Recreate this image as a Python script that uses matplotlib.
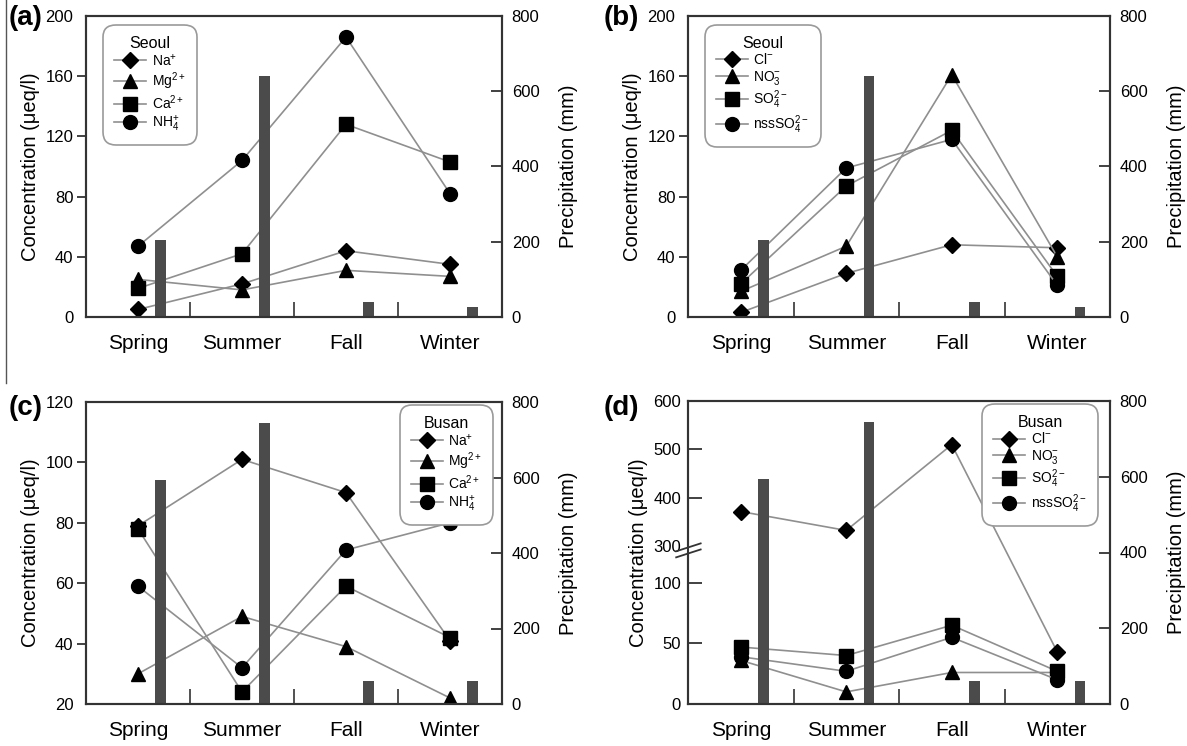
import numpy as np
import matplotlib
matplotlib.use("Agg")
import matplotlib.pyplot as plt
from matplotlib.lines import Line2D
from matplotlib.patches import Rectangle

plt.rcParams['font.family'] = ['Liberation Sans', 'DejaVu Sans']
plt.rcParams['mathtext.fontset'] = 'custom'
plt.rcParams['mathtext.rm'] = 'Liberation Sans'
plt.rcParams['mathtext.it'] = 'Liberation Sans:italic'
plt.rcParams['mathtext.default'] = 'regular'

# ---------------- data ----------------
seasons = ["Spring", "Summer", "Fall", "Winter"]

precip_seoul = [205, 640, 40, 27]
precip_busan = [593, 745, 60, 60]

cation_labels = [r"Na$^{+}$", r"Mg$^{2+}$", r"Ca$^{2+}$", r"NH$_4^{+}$"]
anion_labels = [r"Cl$^{-}$", r"NO$_3^{-}$", r"SO$_4^{2-}$", r"nssSO$_4^{2-}$"]

seoul_na = [5, 22, 44, 35]
seoul_mg = [25, 18, 31, 27]
seoul_ca = [19, 42, 128, 103]
seoul_nh4 = [47, 104, 186, 82]

seoul_cl = [3, 29, 48, 46]
seoul_no3 = [17, 47, 161, 40]
seoul_so4 = [22, 87, 124, 27]
seoul_nss = [31, 99, 118, 21]

busan_na = [79, 101, 90, 41]
busan_mg = [30, 49, 39, 22]
busan_ca = [78, 24, 59, 42]
busan_nh4 = [59, 32, 71, 80]

busan_cl = [372, 333, 510, 43]
busan_no3 = [36, 10, 26, 26]
busan_so4 = [47, 40, 65, 27]
busan_nss = [39, 27, 55, 20]

markers = ["D", "^", "s", "o"]
msizes = [8.5, 9.5, 9.5, 10]

# ---------------- style ----------------
LINE_C = "#8f8f8f"
BAR_C = "#4b4b4b"
SPINE_C = "#333333"

W, H = 1187, 746
fig = plt.figure(figsize=(W / 100, H / 100), dpi=100)

def rect(l, t, r, b):
    return [l / W, (H - b) / H, (r - l) / W, (b - t) / H]

# broken scale for panel (d)
EPS = 1e-7
def fwd(v):
    v = np.asarray(v, dtype=float)
    return np.where(v <= 130, v * 0.004,
                    np.where(v >= 300, 0.52 + 170 * EPS + (v - 300) * 0.0016,
                             0.52 + (v - 130) * EPS))

def inv(u):
    u = np.asarray(u, dtype=float)
    top = 0.52 + 170 * EPS
    return np.where(u <= 0.52, u / 0.004,
                    np.where(u >= top, 300 + (u - top) / 0.0016,
                             130 + (u - 0.52) / EPS))


def panel(box, series, labels, precip, title, ylim, yticks, legend_loc,
          legend_anchor, left_dir="out", broken=False):
    ax = fig.add_axes(rect(*box))
    ax2 = ax.twinx()
    x = np.arange(len(seasons)) + 0.5
    ax.set_xlim(0, 4)
    ax2.set_xlim(0, 4)
    if broken:
        ax.set_yscale("function", functions=(fwd, inv))
    handles = []
    for vals, m, ms, lab in zip(series, markers, msizes, labels):
        h, = ax.plot(x, vals, color=LINE_C, lw=1.2, marker=m, ms=ms,
                     mfc="black", mec="black", label=lab, zorder=3)
        handles.append(h)
    ax2.bar(x + 0.215, precip, width=0.1, color=BAR_C, zorder=2)
    ax.set_ylim(*ylim)
    ax.set_yticks(yticks)
    ax.set_yticklabels([str(t) for t in yticks])
    ax2.set_ylim(0, 800)
    ax2.set_yticks([0, 200, 400, 600, 800])

    ax.set_xticks(x)
    ax.set_xticklabels(seasons, fontsize=15)
    ax.set_xticks([1, 2, 3], minor=True)
    ax.tick_params(axis="x", which="major", length=0, pad=12)
    ax.tick_params(axis="x", which="minor", direction="in", length=11,
                   width=1.2, color=SPINE_C)
    ax2.tick_params(axis="x", which="both", length=0)
    if left_dir == "out":
        ax.tick_params(axis="y", direction="out", length=6.5, width=1.3,
                       color=SPINE_C, labelsize=12, pad=2.5)
    else:
        ax.tick_params(axis="y", direction="in", length=10, width=1.3,
                       color=SPINE_C, labelsize=12, pad=5)
    ax2.tick_params(axis="y", direction="in", length=8, width=1.3,
                    color=SPINE_C, labelsize=12, pad=7)
    # no tick marks at the ends of the axes
    for tk in (ax.yaxis.get_major_ticks()[0], ax.yaxis.get_major_ticks()[-1],
               ax2.yaxis.get_major_ticks()[0], ax2.yaxis.get_major_ticks()[-1]):
        tk.tick1line.set_visible(False)
        tk.tick2line.set_visible(False)
    for a in (ax, ax2):
        for s in a.spines.values():
            s.set_color(SPINE_C)
            s.set_linewidth(1.5)
    ax.set_ylabel("Concentration (\u03bceq/l)", fontsize=14.5, labelpad=4)
    ax2.set_ylabel("Precipitation (mm)", fontsize=14.5, labelpad=14)

    leg = ax2.legend(handles=handles, labels=labels, title=title,
                     loc=legend_loc, bbox_to_anchor=legend_anchor,
                     borderaxespad=0, fontsize=10, title_fontsize=11.5,
                     handlelength=2.3, handletextpad=0.4, labelspacing=0.12,
                     borderpad=0.55, frameon=True, fancybox=True)
    fr = leg.get_frame()
    fr.set_edgecolor("#9a9a9a")
    fr.set_linewidth(1.2)
    fr.set_alpha(1)
    fr.set_boxstyle("round,pad=0.25,rounding_size=0.9")
    leg.set_zorder(10)
    return ax, ax2


# (a)
panel((86, 16, 502, 317),
      [seoul_na, seoul_mg, seoul_ca, seoul_nh4], cation_labels, precip_seoul,
      "Seoul", (0, 200), [0, 40, 80, 120, 160, 200], "upper left", (0.05, 0.96))
# (b)
panel((688, 16, 1110, 317),
      [seoul_cl, seoul_no3, seoul_so4, seoul_nss], anion_labels, precip_seoul,
      "Seoul", (0, 200), [0, 40, 80, 120, 160, 200], "upper left", (0.048, 0.96))
# (c)
panel((86, 402, 502, 704),
      [busan_na, busan_mg, busan_ca, busan_nh4], cation_labels, precip_busan,
      "Busan", (20, 120), [20, 40, 60, 80, 100, 120], "upper right", (0.97, 0.98))
# (d)
axd, axd2 = panel((688, 401, 1110, 704),
                  [busan_cl, busan_no3, busan_so4, busan_nss], anion_labels, precip_busan,
                  "Busan", (0, 600), [0, 50, 100, 300, 400, 500, 600], "upper right",
                  (0.963, 0.98), left_dir="in", broken=True)

# hide tick at the break and draw break marks
for tk, val in zip(axd.yaxis.get_major_ticks(), [0, 50, 100, 300, 400, 500, 600]):
    if val == 300:
        tk.tick1line.set_visible(False)
ub = float(fwd(300))
axd.add_patch(Rectangle((-0.01, ub - 0.02), 0.02, 0.02, transform=axd.transAxes,
                        facecolor="white", edgecolor="none", clip_on=False, zorder=20))
for dy in (0.0, -0.02):
    axd.add_line(Line2D([-0.028, 0.03], [ub + dy - 0.016, ub + dy + 0.01],
                        transform=axd.transAxes, color=SPINE_C, lw=1.3,
                        clip_on=False, zorder=21))

# panel letters
for lab, px, py in (("(a)", 9, 5), ("(b)", 604, 5), ("(c)", 9, 395), ("(d)", 604, 395)):
    fig.text(px / W, 1 - py / H, lab, fontsize=20, fontweight="bold",
             ha="left", va="top")

# thin vertical rule at the far left
fig.add_artist(Line2D([6 / W, 6 / W], [1, 1 - 383 / H], transform=fig.transFigure,
                      color="#555555", lw=1))

fig.savefig("out.png", dpi=100)
